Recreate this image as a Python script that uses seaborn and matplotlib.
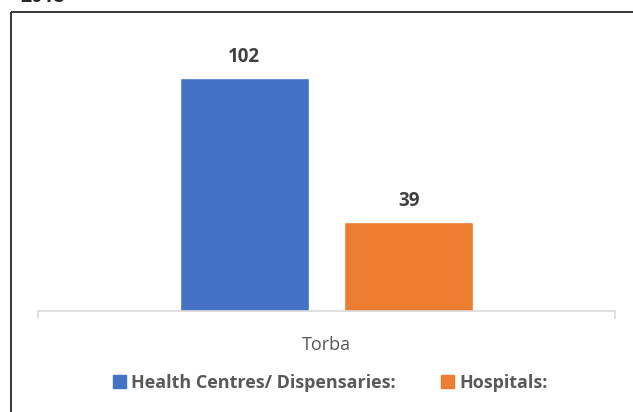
import matplotlib
matplotlib.use("Agg")
import matplotlib.pyplot as plt
import matplotlib.patches as mpatches
from matplotlib.lines import Line2D
import seaborn as sns
import pandas as pd

# Data
categories = ["Torba"]
series_names = ["Health Centres/ Dispensaries:", "Hospitals:"]
health_centres = [102]
hospitals = [39]
colors = ["#4472C4", "#ED7D31"]

df = pd.DataFrame({
    "Province": categories * 2,
    "Type": [series_names[0]] * len(categories) + [series_names[1]] * len(categories),
    "Count": health_centres + hospitals,
})

sns.set_theme(style="white")
plt.rcParams["font.family"] = ["Open Sans", "DejaVu Sans"]

W, H = 633, 412
fig = plt.figure(figsize=(W / 100, H / 100), dpi=100)
ax = fig.add_axes([38 / W, 1 - 311 / H, (615 - 38) / W, (311 - 37) / H])

sns.barplot(data=df, x="Province", y="Count", hue="Type", palette=colors,
            width=0.57, gap=0.215, ax=ax, legend=False, saturation=1)

ax.set_ylim(0, 120)
ax.set_xlim(-0.5, 0.5)
for c in ax.containers:
    ax.bar_label(c, fmt="%d", padding=8, fontsize=13.5, fontweight="bold", color="#404040")

for s in ["top", "left", "right"]:
    ax.spines[s].set_visible(False)
ax.spines["bottom"].set_color("#D9D9D9")
ax.spines["bottom"].set_linewidth(1.2)
ax.set_yticks([])
ax.set_xlabel("")
ax.set_ylabel("")
ax.set_xticks([0])
ax.set_xticklabels(categories, fontsize=13, color="#595959")
ax.tick_params(axis="x", which="major", length=0, pad=18)
ax.set_xticks([-0.5, 0.5], minor=True)
ax.tick_params(axis="x", which="minor", bottom=True, length=6, width=1.2,
               color="#D9D9D9", direction="out")

handles = [mpatches.Patch(color=col, label=lab) for col, lab in zip(colors, series_names)]
leg = fig.legend(handles=handles, loc="center", bbox_to_anchor=(330 / W, 1 - 383 / H), ncol=2,
                 frameon=False, handlelength=0.72, handleheight=0.72, handletextpad=0.3,
                 columnspacing=2.5, prop={"size": 13, "weight": "bold"})
for t in leg.get_texts():
    t.set_color("#595959")

# chart frame (partially cropped): top and left edges
fx, fy = 10.5 / W, 1 - 12 / H
fig.add_artist(Line2D([fx, fx], [0.0, fy], transform=fig.transFigure, color="#262626", lw=1.3,
                      solid_capstyle="butt"))
fig.add_artist(Line2D([fx, 1.0], [fy, fy], transform=fig.transFigure, color="#262626", lw=1.3,
                      solid_capstyle="butt"))

# cropped title text at top
fig.text(20 / W, 1 - 2 / H, "2018", fontsize=14, fontweight="bold", color="#262626",
         va="baseline", ha="left")

fig.savefig("out.png", dpi=100)
